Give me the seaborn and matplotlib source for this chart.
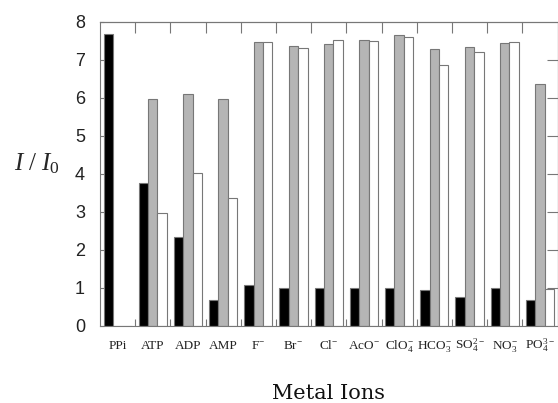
import matplotlib
matplotlib.use('Agg')
import matplotlib.pyplot as plt
import seaborn as sns
import pandas as pd

# anions on the x axis
anions = ['PPi', 'ATP', 'ADP', 'AMP', 'F', 'Br', 'Cl', 'AcO', 'ClO4', 'HCO3',
          'SO4', 'NO3', 'PO4']
tick_labels = ['PPi', 'ATP', 'ADP', 'AMP', 'F$^{-}$', 'Br$^{-}$', 'Cl$^{-}$',
               'AcO$^{-}$', 'ClO$_4^{-}$', 'HCO$_3^{-}$', 'SO$_4^{2-}$',
               'NO$_3^{-}$', 'PO$_4^{3-}$']
series_names = ['black', 'gray', 'white']

# I / I0
black_vals = [7.68, 3.77, 2.33, 0.68, 1.08, 0.99, 1.00, 1.01, 1.01, 0.95, 0.77, 1.00, 0.68]
gray_vals = [0.0, 5.98, 6.10, 5.98, 7.47, 7.37, 7.43, 7.52, 7.65, 7.28, 7.35, 7.46, 6.38]
white_vals = [0.0, 2.98, 4.03, 3.37, 7.47, 7.31, 7.52, 7.50, 7.61, 6.86, 7.22, 7.47, 0.97]

df = pd.DataFrame({
    'anion': anions * 3,
    'series': [s for s in series_names for _ in anions],
    'value': black_vals + gray_vals + white_vals,
})

sns.set_style('white')
plt.rcParams['mathtext.fontset'] = 'custom'
plt.rcParams['mathtext.rm'] = 'Liberation Serif'
plt.rcParams['mathtext.it'] = 'Liberation Serif:italic'
plt.rcParams['mathtext.bf'] = 'Liberation Serif:bold'

edge = '#777777'
fig = plt.figure(figsize=(5.58, 4.03), dpi=100)
ax = fig.add_axes([100 / 558, 77 / 403, 457.5 / 558, 304 / 403])

sns.barplot(data=df, x='anion', y='value', hue='series', order=anions,
            hue_order=series_names, palette=['#000000', '#b5b5b5', '#ffffff'],
            width=0.8, saturation=1, edgecolor=edge, linewidth=0.8,
            legend=False, ax=ax)

ax.set_xlim(-0.5, 12.5)
ax.set_ylim(0, 8)
for s in ax.spines.values():
    s.set_visible(True)
    s.set_color(edge)
    s.set_linewidth(0.8)

# x ticks: labels at group centres, tick marks between groups
ax.set_xticks(range(len(anions)))
ax.set_xticklabels(tick_labels, fontfamily='Liberation Serif', fontsize=9.5, color='#222222')
ax.tick_params(axis='x', which='major', length=0, pad=16.5)
for lbl in ax.get_xticklabels():
    lbl.set_va('baseline')
bounds = [i + 0.5 for i in range(len(anions) - 1)]
ax.set_xticks(bounds, minor=True)
ax.tick_params(axis='x', which='minor', direction='in', length=5, width=0.8,
               color=edge, bottom=True, top=False)

top = ax.secondary_xaxis('top')
top.set_xticks(bounds)
top.tick_params(direction='in', length=8, width=0.8, color=edge, labeltop=False)
top.spines['top'].set_color(edge)
top.spines['top'].set_linewidth(0.8)

ax.set_yticks(range(9))
ax.set_yticklabels([str(v) for v in range(9)], fontfamily='Liberation Sans',
                   fontsize=13, color='#222222')
ax.tick_params(axis='y', direction='in', length=3, width=0.8, color=edge,
               left=True, pad=10.8)

right = ax.secondary_yaxis('right')
right.set_yticks(range(1, 8))
right.tick_params(direction='in', length=8, width=0.8, color=edge, labelright=False)
right.spines['right'].set_color(edge)
right.spines['right'].set_linewidth(0.8)

ax.set_ylabel(r'$I\ /\ I_0$', rotation=0, fontsize=18, ha='center', va='baseline')
ax.yaxis.set_label_coords(-0.138, 0.513)
ax.set_xlabel('Metal Ions', fontfamily='DejaVu Serif', fontsize=15, va='baseline',
              color='#111111')
ax.xaxis.set_label_coords(0.5, -0.24)

fig.savefig('out.png', dpi=100)
